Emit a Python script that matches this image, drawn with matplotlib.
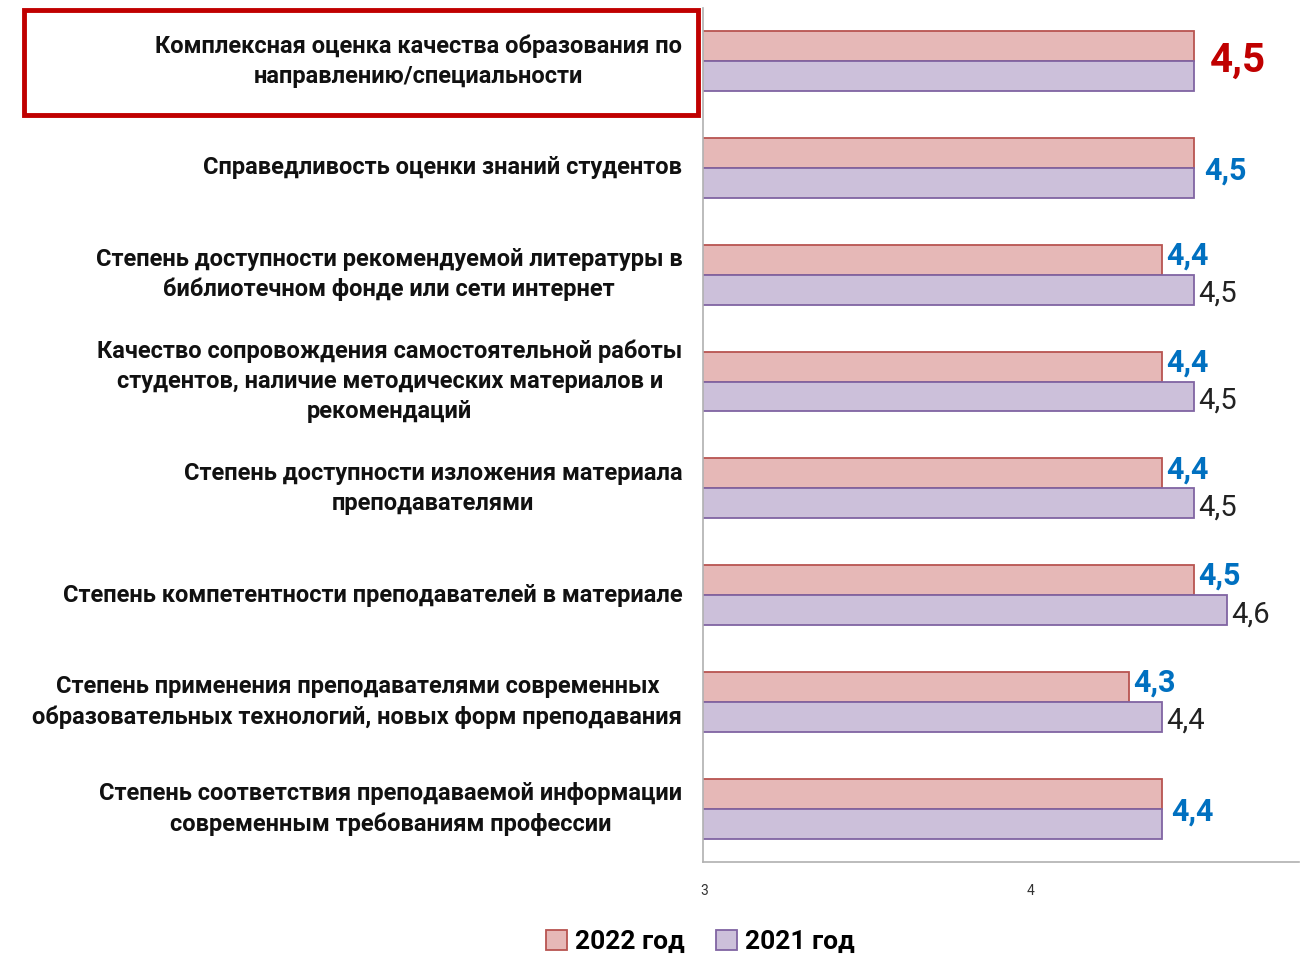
import matplotlib
matplotlib.use("Agg")
import matplotlib.pyplot as plt
from matplotlib.patches import Rectangle
import numpy as np

plt.rcParams['font.family'] = ['Roboto', 'DejaVu Sans']

categories = [
    "Комплексная оценка качества образования по\nнаправлению/специальности",
    "Справедливость оценки знаний студентов",
    "Степень доступности рекомендуемой литературы в\nбиблиотечном фонде или сети интернет",
    "Качество сопровождения самостоятельной работы\nстудентов, наличие методических материалов и\nрекомендаций",
    "Степень доступности изложения материала\nпреподавателями",
    "Степень компетентности преподавателей в материале",
    "Степень применения преподавателями современных\nобразовательных технологий, новых форм преподавания",
    "Степень соответствия преподаваемой информации\nсовременным требованиям профессии",
]
vals_2022 = [4.5, 4.5, 4.4, 4.4, 4.4, 4.5, 4.3, 4.4]
vals_2021 = [4.5, 4.5, 4.5, 4.5, 4.5, 4.6, 4.4, 4.4]
series_names = ["2022 год", "2021 год"]
xticks = [3, 4]

pink, pink_edge = "#e6b8b7", "#b85450"
lilac, lilac_edge = "#ccc0da", "#8064a2"

fig = plt.figure(figsize=(13.04, 9.59), dpi=100)
ax = fig.add_axes([0.539, 0.101, 0.457, 0.891])

y = np.arange(len(categories))
h = 0.28
ax.barh(y - h / 2, vals_2022, height=h, left=0, color=pink, edgecolor=pink_edge,
        linewidth=1.3, label=series_names[0])
ax.barh(y + h / 2, vals_2021, height=h, left=0, color=lilac, edgecolor=lilac_edge,
        linewidth=1.3, label=series_names[1])

ax.set_xlim(2.995, 4.82)
ax.set_ylim(len(categories) - 0.5, -0.5)
ax.set_xticks(xticks)
ax.set_xticklabels([str(t) for t in xticks], fontsize=10, color="#333333")
ax.tick_params(axis='x', length=0, pad=16)
ax.set_yticks([])
for s in ['top', 'right']:
    ax.spines[s].set_visible(False)
for s in ['left', 'bottom']:
    ax.spines[s].set_color("#b0b0b0")
    ax.spines[s].set_linewidth(1.2)

# value labels
for i, (a, b) in enumerate(zip(vals_2022, vals_2021)):
    txt_a = f"{a:.1f}".replace(".", ",")
    txt_b = f"{b:.1f}".replace(".", ",")
    if a == b:
        if i == 0:
            ax.annotate(txt_a, (a, i), xytext=(11, 0), textcoords='offset points',
                        ha='left', va='center', fontsize=29, fontweight='bold', color="#c00000")
        else:
            ax.annotate(txt_a, (a, i), xytext=(7, -2), textcoords='offset points',
                        ha='left', va='center', fontsize=22, fontweight='bold', color="#0070c0")
    else:
        ax.annotate(txt_a, (a, i - h / 2), xytext=(3, 3), textcoords='offset points',
                    ha='left', va='center', fontsize=22, fontweight='bold', color="#0070c0")
        ax.annotate(txt_b, (b, i + h / 2), xytext=(3, -3), textcoords='offset points',
                    ha='left', va='center', fontsize=21, color="#222222")

# category labels
for i, c in enumerate(categories):
    ax.annotate(c, (3, i), xytext=(-16, 0), textcoords='offset points',
                ha='right', va='center', multialignment='center',
                fontsize=17, fontweight='bold', color="#111111", linespacing=1.38,
                annotation_clip=False)

# red frame around first category
fig.patches.append(Rectangle((24 / 1304, 1 - 115 / 959), (698 - 24) / 1304, (115 - 10) / 959,
                             transform=fig.transFigure, fill=False,
                             edgecolor="#c00000", linewidth=3.5))

fig.legend(loc='center', bbox_to_anchor=(0.537, 0.018), ncol=2, frameon=False,
           prop={'size': 19, 'weight': 'bold'}, handlelength=0.8, handleheight=0.8,
           handletextpad=0.3, columnspacing=1.2)

fig.savefig("out.png", dpi=100)
